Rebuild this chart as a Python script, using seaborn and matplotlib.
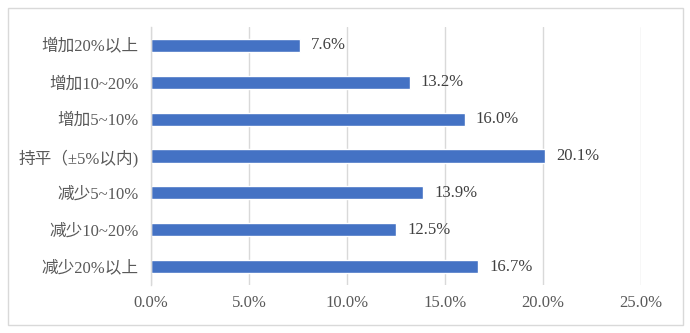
import matplotlib
matplotlib.use("Agg")
import matplotlib.pyplot as plt
import seaborn as sns
import pandas as pd
from matplotlib.patches import Rectangle
from matplotlib.ticker import FuncFormatter

categories = ["增加20%以上", "增加10~20%", "增加5~10%", "持平（±5%以内)", "减少5~10%", "减少10~20%", "减少20%以上"]
values = [7.6, 13.2, 16.0, 20.1, 13.9, 12.5, 16.7]

sns.set_theme(style="white")
plt.rcParams['font.family'] = ['Liberation Serif', 'Noto Sans CJK SC', 'DejaVu Sans']

df = pd.DataFrame({"cat": categories, "val": [v / 100 for v in values]})

fig = plt.figure(figsize=(6.9, 3.33), dpi=100)
ax = fig.add_axes([151/690, 1 - 285/333, (641-151)/690, (285-27)/333])

sns.barplot(data=df, y="cat", x="val", orient="h", color="#4472C4", saturation=1,
            width=0.355, ax=ax)

ax.set_xlim(0, 0.25)
ax.set_xticks([0, 0.05, 0.10, 0.15, 0.20, 0.25])
ax.xaxis.set_major_formatter(FuncFormatter(lambda x, p: f"{x*100:.1f}%"))
ax.grid(axis="x", color="#D9D9D9", linewidth=1)
ax.set_axisbelow(True)
for s in ["top", "right", "bottom"]:
    ax.spines[s].set_visible(False)
ax.spines["left"].set_color("#D9D9D9")
ax.spines["left"].set_linewidth(1)
ax.set_xlabel("")
ax.set_ylabel("")
ax.tick_params(axis="both", length=0, labelsize=12, labelcolor="#595959")
ax.tick_params(axis="x", pad=7)
ax.tick_params(axis="y", pad=9)

for i, v in enumerate(values):
    ax.annotate(f"{v:.1f}%", xy=(v / 100, i), xytext=(8, 0), textcoords="offset points",
                va="center", ha="left", fontsize=12, color="#404040")

fig.patches.append(Rectangle((8/690, 8/333), 675/690, 317/333, transform=fig.transFigure,
                             fill=False, edgecolor="#D9D9D9", linewidth=1))

fig.savefig("out.png", dpi=100, facecolor="white")
